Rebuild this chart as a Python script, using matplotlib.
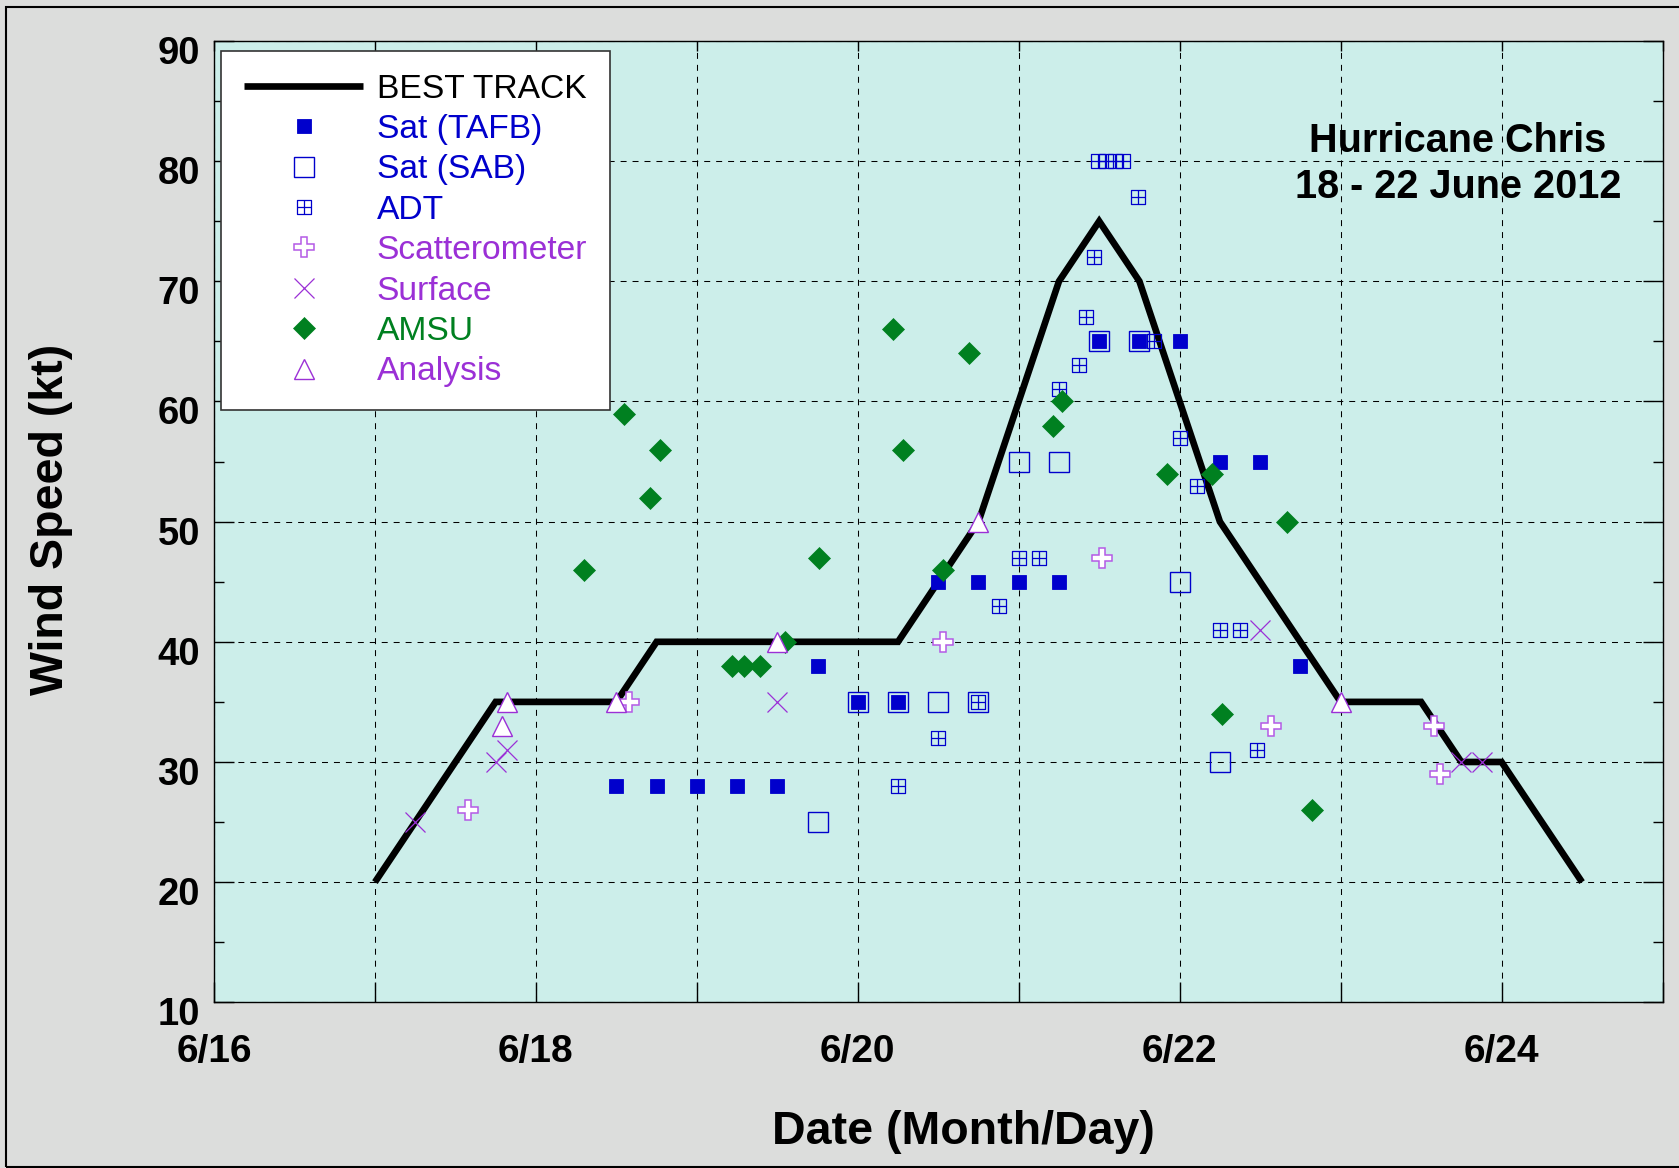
import matplotlib
matplotlib.use('Agg')
import matplotlib.pyplot as plt
from matplotlib.path import Path
from matplotlib.patches import Rectangle
from matplotlib.ticker import MultipleLocator
import matplotlib.transforms as mtransforms

# ---------------- data (day of June 2012, knots) ----------------
bt_day = [17.0, 17.25, 17.5, 17.75, 18.0, 18.25, 18.5, 18.75, 19.0, 19.25, 19.5, 19.75,
          20.0, 20.25, 20.5, 20.75, 21.0, 21.25, 21.5, 21.75, 22.0, 22.25, 22.5, 22.75,
          23.0, 23.25, 23.5, 23.75, 24.0, 24.25, 24.5]
bt_kt = [20, 25, 30, 35, 35, 35, 35, 40, 40, 40, 40, 40,
         40, 40, 45, 50, 60, 70, 75, 70, 60, 50, 45, 40,
         35, 35, 35, 30, 30, 25, 20]

tafb_day = [18.5, 18.75, 19.0, 19.25, 19.5, 19.75, 20.0, 20.25, 20.5, 20.75, 21.0, 21.25,
            21.5, 21.75, 22.0, 22.25, 22.5, 22.75]
tafb_kt = [28, 28, 28, 28, 28, 38, 35, 35, 45, 45, 45, 45, 65, 65, 65, 55, 55, 38]

sab_day = [19.75, 20.0, 20.25, 20.5, 20.75, 21.0, 21.25, 21.5, 21.75, 22.0, 22.25]
sab_kt = [25, 35, 35, 35, 35, 55, 55, 65, 65, 45, 30]

adt_day = [20.25, 20.5, 20.75, 20.875, 21.0, 21.125, 21.25, 21.375, 21.42, 21.465, 21.49,
           21.545, 21.6, 21.65, 21.74, 21.84, 22.0, 22.11, 22.25, 22.375, 22.48]
adt_kt = [28, 32, 35, 43, 47, 47, 61, 63, 67, 72, 80, 80, 80, 80, 77, 65, 57, 53, 41, 41, 31]

scat_day = [17.58, 18.58, 20.53, 21.52, 22.57, 23.58, 23.62]
scat_kt = [26, 35, 40, 47, 33, 33, 29]

sfc_day = [17.25, 17.75, 17.82, 19.5, 22.5, 23.75, 23.88]
sfc_kt = [25, 30, 31, 35, 41, 30, 30]

amsu_day = [18.30, 18.55, 18.71, 18.77, 19.22, 19.29, 19.39, 19.55, 19.76, 20.22, 20.28,
            20.53, 20.69, 21.21, 21.27, 21.92, 22.2, 22.26, 22.67, 22.82]
amsu_kt = [46, 59, 52, 56, 38, 38, 38, 40, 47, 66, 56, 46, 64, 58, 60, 54, 54, 34, 50, 26]

ana_day = [17.79, 17.82, 18.5, 19.5, 20.75, 23.0]
ana_kt = [33, 35, 35, 40, 50, 35]

x_ticks = [16, 17, 18, 19, 20, 21, 22, 23, 24, 25]
x_ticklabels = ['6/16', '', '6/18', '', '6/20', '', '6/22', '', '6/24', '']
y_ticks = [10, 20, 30, 40, 50, 60, 70, 80, 90]

series_labels = ['BEST TRACK', 'Sat (TAFB)', 'Sat (SAB)', 'ADT', 'Scatterometer',
                 'Surface', 'AMSU', 'Analysis']

# ---------------- style ----------------
plt.rcParams['font.family'] = ['Liberation Sans', 'DejaVu Sans']
plt.rcParams['lines.scale_dashes'] = False

BLUE = '#0000CC'
PURPLE = '#9B30D6'
LPURPLE = '#B45AE6'
GREEN = '#008020'

W, H = 1679, 1168
fig = plt.figure(figsize=(W / 100, H / 100), dpi=100, facecolor='#DCDDDC')
ax = fig.add_axes([214 / W, 1 - 1002.3 / H, (1662.5 - 214) / W, (1002.3 - 41) / H])
ax.set_facecolor('#CCEEEA')

# ADT marker: square with cross inside
adt_path = Path([(-1, -1), (1, -1), (1, 1), (-1, 1), (-1, -1),
                 (0, -1), (0, 1), (-1, 0), (1, 0)],
                [Path.MOVETO, Path.LINETO, Path.LINETO, Path.LINETO, Path.CLOSEPOLY,
                 Path.MOVETO, Path.LINETO, Path.MOVETO, Path.LINETO])

ax.plot(bt_day, bt_kt, color='black', lw=4.8, solid_joinstyle='miter',
        solid_capstyle='butt', zorder=3, label=series_labels[0])
ax.plot(tafb_day, tafb_kt, ls='none', marker='s', ms=10.3, mfc=BLUE, mec=BLUE, mew=0.6,
        zorder=4, label=series_labels[1])
ax.plot(sab_day, sab_kt, ls='none', marker='s', ms=14.4, mfc='none', mec=BLUE, mew=1.0,
        zorder=4, label=series_labels[2])
ax.plot(adt_day, adt_kt, ls='none', marker=adt_path, ms=10.3, mfc='none', mec=BLUE,
        mew=0.9, zorder=4, label=series_labels[3])
ax.plot(scat_day, scat_kt, ls='none', marker='P', ms=15, mfc='white', mec=LPURPLE,
        mew=1.1, zorder=4, label=series_labels[4])
ax.plot(sfc_day, sfc_kt, ls='none', marker='x', ms=15, mec=PURPLE, mew=0.9,
        zorder=4, label=series_labels[5])
ax.plot(amsu_day, amsu_kt, ls='none', marker='D', ms=10.7, mfc=GREEN, mec=GREEN, mew=0.5,
        zorder=4, label=series_labels[6])
ax.plot(ana_day, ana_kt, ls='none', marker='^', ms=14.6, mfc='white', mec=PURPLE, mew=1.0,
        zorder=5, label=series_labels[7])

ax.set_xlim(16, 25)
ax.set_ylim(10, 90)
ax.set_xticks(x_ticks)
ax.set_xticklabels(x_ticklabels)
ax.set_yticks(y_ticks)
ax.yaxis.set_minor_locator(MultipleLocator(5))

ax.set_axisbelow(True)
ax.grid(True, which='major', color='black', linestyle=(0, (4.3, 4.3)), linewidth=0.75)

ax.tick_params(axis='x', which='major', direction='in', length=14.4, width=1.0,
               top=True, bottom=True, labelsize=28, pad=23)
ax.tick_params(axis='y', which='major', direction='in', length=14.4, width=1.0,
               left=True, right=True, labelsize=27.5, pad=10)
ax.tick_params(axis='y', which='minor', direction='in', length=7.2, width=1.0,
               left=True, right=True)
for t in ax.xaxis.get_major_ticks():
    t.tick2line.set_markersize(7.2)
for lab in ax.get_xticklabels() + ax.get_yticklabels():
    lab.set_fontweight('bold')
offset = mtransforms.ScaledTranslation(0, -9 / 100, fig.dpi_scale_trans)
for lab in ax.get_yticklabels():
    lab.set_transform(lab.get_transform() + offset)

for sp in ax.spines.values():
    sp.set_linewidth(1.0)
    sp.set_color('black')

ax.set_xlabel('Date (Month/Day)', fontsize=33.5, fontweight='bold')
ax.xaxis.set_label_coords(0.5176, -0.1125)
ax.set_ylabel('Wind Speed (kt)', fontsize=33.5, fontweight='bold')
ax.yaxis.set_label_coords(-0.097, 0.5027)

ax.text(0.8588, 0.8848, 'Hurricane Chris', transform=ax.transAxes, ha='center',
        va='baseline', fontsize=28.5, fontweight='bold', zorder=6)
ax.text(0.8588, 0.8364, '18 - 22 June 2012', transform=ax.transAxes, ha='center',
        va='baseline', fontsize=28.5, fontweight='bold', zorder=6)

leg = ax.legend(loc='upper left', bbox_to_anchor=(7 / 1448.5, 1 - 9.7 / 961.3),
                borderaxespad=0, fontsize=24.2, frameon=True, fancybox=False,
                edgecolor='#333333', framealpha=1, facecolor='white',
                handlelength=3.55, handletextpad=0.4, borderpad=0.68,
                labelspacing=0.28, numpoints=1)
leg.get_frame().set_linewidth(1.2)
leg.set_zorder(10)
text_colors = ['black', BLUE, BLUE, BLUE, PURPLE, PURPLE, GREEN, PURPLE]
for txt, c in zip(leg.get_texts(), text_colors):
    txt.set_color(c)

fig.patches.append(Rectangle((5.7 / W, 1.5 / H), 2.0, (1161.3 - 1.5) / H,
                             transform=fig.transFigure, fill=False,
                             edgecolor='black', lw=1.5, zorder=0))

fig.savefig('out.png', dpi=100, facecolor=fig.get_facecolor())
